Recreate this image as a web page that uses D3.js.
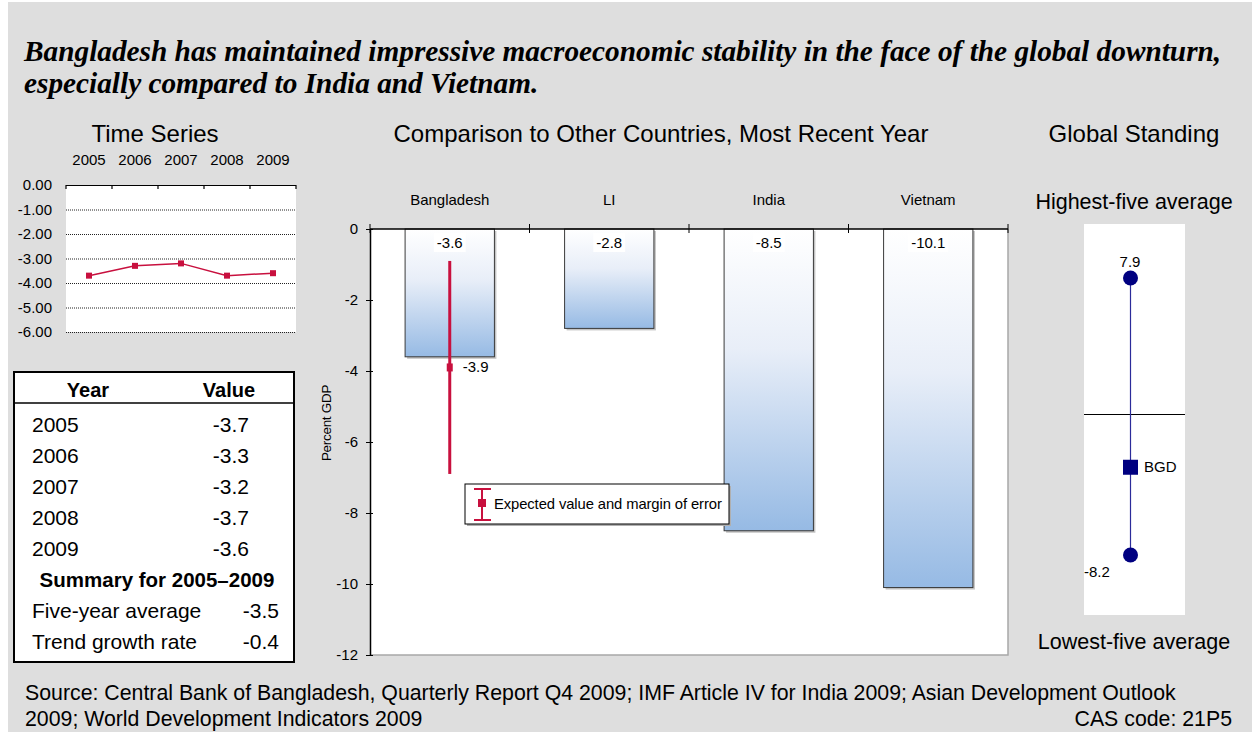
<!DOCTYPE html>
<html>
<head>
<meta charset="utf-8">
<script src="https://cdn.jsdelivr.net/npm/d3@7"></script>
<style>
  html, body { margin: 0; padding: 0; background: #ffffff; }
  svg { display: block; }
  text { font-family: "Liberation Sans", Arial, sans-serif; fill: #000; }
</style>
</head>
<body>
<svg id="chart" width="1252" height="732"></svg>
<script>
// ---- data ----
const years = ["2005", "2006", "2007", "2008", "2009"];
const yearValues = [-3.7, -3.3, -3.2, -3.7, -3.6];
const seriesTicks = [0, -1, -2, -3, -4, -5, -6];

const summaryLabels = ["Five-year average", "Trend growth rate"];
const summaryValues = [-3.5, -0.4];

const countries = ["Bangladesh", "LI", "India", "Vietnam"];
const recentValues = [-3.6, -2.8, -8.5, -10.1];
const barTicks = [0, -2, -4, -6, -8, -10, -12];
const expectedValue = -3.9;
const errorMargin = 3.0;

const standingLabels = ["7.9", "BGD", "-8.2"];
const standingValues = [7.9, -3.1, -8.2];

const titleLines = [
  "Bangladesh has maintained impressive macroeconomic stability in the face of the global downturn,",
  "especially compared to India and Vietnam."
];
const sourceLines = [
  "Source: Central Bank of Bangladesh, Quarterly Report Q4 2009; IMF Article IV for India 2009; Asian Development Outlook",
  "2009; World Development Indicators 2009"
];

const RED = "#c8103e";
const NAVY = "#000080";
const fmt1 = v => d3.format(".1f")(v).replace("\u2212", "-");

const svg = d3.select("#chart");

// page background panel
svg.append("rect").attr("x", 8).attr("y", 2).attr("width", 1244).attr("height", 730).attr("fill", "#dedede");

// headline
svg.selectAll("text.headline").data(titleLines).join("text")
  .attr("class", "headline")
  .attr("x", 24).attr("y", (d, i) => 61 + i * 32)
  .style("font-family", "'Liberation Serif', 'Times New Roman', serif")
  .style("font-weight", "bold").style("font-style", "italic")
  .style("font-size", "29.3px")
  .text(d => d);

// panel titles
const panelTitles = [
  { t: "Time Series", x: 155 },
  { t: "Comparison to Other Countries, Most Recent Year", x: 661 },
  { t: "Global Standing", x: 1134 }
];
svg.selectAll("text.ptitle").data(panelTitles).join("text")
  .attr("class", "ptitle")
  .attr("x", d => d.x).attr("y", 142)
  .attr("text-anchor", "middle")
  .style("font-size", "24px")
  .text(d => d.t);

// ================= Time series =================
const ts = svg.append("g");
const tx = d3.scaleBand().domain(years).range([66, 296]);
const ty = d3.scaleLinear().domain([-6, 0]).range([332, 185]);

ts.append("rect").attr("x", 66).attr("y", ty(0)).attr("width", 230).attr("height", ty(-6) - ty(0)).attr("fill", "#fff");

// dotted gridlines
ts.selectAll("line.grid").data(seriesTicks.filter(d => d !== 0)).join("line")
  .attr("class", "grid")
  .attr("x1", 66).attr("x2", 296)
  .attr("y1", d => ty(d) + 0.5).attr("y2", d => ty(d) + 0.5)
  .attr("stroke", "#222").attr("stroke-width", 1).attr("stroke-dasharray", "1,1");

// top axis with year labels
const tsTop = ts.append("g").attr("transform", `translate(0,${ty(0)})`)
  .call(d3.axisTop(tx).tickSize(0).tickPadding(20));
tsTop.select(".domain").remove();
tsTop.selectAll("text").style("font-size", "15px").style("font-family", "'Liberation Sans', Arial, sans-serif");
ts.append("line").attr("x1", 66).attr("x2", 296).attr("y1", ty(0) + 0.5).attr("y2", ty(0) + 0.5)
  .attr("stroke", "#000").attr("stroke-width", 1.2);
const tsBounds = years.map(y => tx(y)).concat([tx.range()[1]]);
ts.selectAll("line.btick").data(tsBounds).join("line")
  .attr("class", "btick")
  .attr("x1", d => d).attr("x2", d => d)
  .attr("y1", ty(0)).attr("y2", ty(0) + 4)
  .attr("stroke", "#000").attr("stroke-width", 1.2);

// left axis labels
const tsLeft = ts.append("g").attr("transform", "translate(66,0)")
  .call(d3.axisLeft(ty).tickValues(seriesTicks).tickFormat(d3.format(".2f")).tickSize(0).tickPadding(14));
tsLeft.select(".domain").remove();
tsLeft.selectAll("text").style("font-size", "15px").style("font-family", "'Liberation Sans', Arial, sans-serif")
  .text(d => d3.format(".2f")(d).replace("\u2212", "-"));

// series line + markers
const tsPts = years.map((y, i) => [tx(y) + tx.bandwidth() / 2, ty(yearValues[i])]);
ts.append("path").attr("d", d3.line()(tsPts)).attr("fill", "none").attr("stroke", RED).attr("stroke-width", 1.5);
ts.selectAll("rect.mk").data(tsPts).join("rect")
  .attr("class", "mk")
  .attr("x", d => d[0] - 3).attr("y", d => d[1] - 3).attr("width", 6).attr("height", 6).attr("fill", RED);

// ================= Table =================
const tb = svg.append("g");
const TFS = "21px";
tb.append("rect").attr("x", 14).attr("y", 372).attr("width", 280).attr("height", 290)
  .attr("fill", "#fff").attr("stroke", "#000").attr("stroke-width", 2);
tb.append("line").attr("x1", 14).attr("x2", 294).attr("y1", 403).attr("y2", 403).attr("stroke", "#000").attr("stroke-width", 1.5);
tb.append("text").attr("x", 88).attr("y", 397).attr("text-anchor", "middle")
  .style("font-size", "20px").style("font-weight", "bold").text("Year");
tb.append("text").attr("x", 229).attr("y", 397).attr("text-anchor", "middle")
  .style("font-size", "20px").style("font-weight", "bold").text("Value");
const rowY = i => 432 + i * 31;
tb.selectAll("text.yr").data(years).join("text").attr("class", "yr")
  .attr("x", 32).attr("y", (d, i) => rowY(i)).style("font-size", TFS).text(d => d);
tb.selectAll("text.yv").data(yearValues).join("text").attr("class", "yv")
  .attr("x", 249).attr("y", (d, i) => rowY(i)).attr("text-anchor", "end")
  .style("font-size", TFS).text(d => fmt1(d));
tb.append("text").attr("x", 157).attr("y", rowY(5)).attr("text-anchor", "middle")
  .style("font-size", "20.5px").style("font-weight", "bold").text("Summary for 2005\u20132009");
tb.selectAll("text.sl").data(summaryLabels).join("text").attr("class", "sl")
  .attr("x", 32).attr("y", (d, i) => rowY(6 + i)).style("font-size", TFS).text(d => d);
tb.selectAll("text.sv").data(summaryValues).join("text").attr("class", "sv")
  .attr("x", 279).attr("y", (d, i) => rowY(6 + i)).attr("text-anchor", "end")
  .style("font-size", TFS).text(d => fmt1(d));

// ================= Bar comparison =================
const bc = svg.append("g");
const bx = d3.scaleBand().domain(countries).range([370, 1008]).paddingInner(0.44).paddingOuter(0.22);
const by = d3.scaleLinear().domain([-12, 0]).range([655, 229]);

const defs = svg.append("defs");
const grad = defs.append("linearGradient").attr("id", "barFill").attr("x1", 0).attr("y1", 0).attr("x2", 0).attr("y2", 1);
grad.append("stop").attr("offset", "0%").attr("stop-color", "#ffffff");
grad.append("stop").attr("offset", "40%").attr("stop-color", "#e8eef8");
grad.append("stop").attr("offset", "100%").attr("stop-color", "#96bae4");

// plot area
bc.append("rect").attr("x", 370).attr("y", by(0)).attr("width", 638).attr("height", by(-12) - by(0)).attr("fill", "#fff");
bc.append("path").attr("d", `M370,${by(-12)}H1008V${by(0)}`).attr("fill", "none").attr("stroke", "#a8a8a8").attr("stroke-width", 1.5);

// bar shadows then bars
bc.selectAll("rect.shadow").data(countries).join("rect").attr("class", "shadow")
  .attr("x", d => bx(d) + 2).attr("y", by(0) + 2)
  .attr("width", bx.bandwidth()).attr("height", (d, i) => by(recentValues[i]) - by(0))
  .attr("fill", "#c4c4c4");
bc.selectAll("rect.bar").data(countries).join("rect").attr("class", "bar")
  .attr("x", d => bx(d)).attr("y", by(0))
  .attr("width", bx.bandwidth()).attr("height", (d, i) => by(recentValues[i]) - by(0))
  .attr("fill", "url(#barFill)").attr("stroke", "#3a3a3a").attr("stroke-width", 1);

// value labels with white backing
const lblG = bc.selectAll("g.vl").data(countries).join("g").attr("class", "vl");
lblG.each(function (d, i) {
  const g = d3.select(this);
  const cx = bx(d) + bx.bandwidth() / 2;
  const t = g.append("text").attr("x", cx).attr("y", by(0) + 19).attr("text-anchor", "middle")
    .style("font-size", "15px").text(fmt1(recentValues[i]));
  const bb = t.node().getBBox();
  g.insert("rect", "text").attr("x", bb.x - 3).attr("y", bb.y - 1).attr("width", bb.width + 6).attr("height", bb.height + 2).attr("fill", "#fff");
});

// top axis at zero with boundary ticks, category names above
bc.append("line").attr("x1", 370).attr("x2", 1008).attr("y1", by(0)).attr("y2", by(0)).attr("stroke", "#000").attr("stroke-width", 1.5);
const bBounds = countries.map(c => bx(c) - bx.step() * bx.paddingInner() / 2).concat([1008]);
bBounds[0] = 370;
bc.selectAll("line.ct").data(bBounds).join("line").attr("class", "ct")
  .attr("x1", d => d).attr("x2", d => d).attr("y1", by(0) - 5).attr("y2", by(0) + 4)
  .attr("stroke", "#000").attr("stroke-width", 1);
bc.selectAll("text.cat").data(countries).join("text").attr("class", "cat")
  .attr("x", d => bx(d) + bx.bandwidth() / 2).attr("y", 205).attr("text-anchor", "middle")
  .style("font-size", "15px").text(d => d);

// left axis
const bLeft = bc.append("g").attr("transform", "translate(370,0)")
  .call(d3.axisLeft(by).tickValues(barTicks).tickSizeInner(4).tickSizeOuter(0).tickPadding(8).tickFormat(d3.format("d")));
bLeft.select(".domain").attr("stroke", "#000").attr("stroke-width", 1.5);
bLeft.selectAll(".tick line").attr("x2", -4).attr("x1", 3);
bLeft.selectAll("text").style("font-size", "15px").style("font-family", "'Liberation Sans', Arial, sans-serif")
  .text(d => String(d).replace("\u2212", "-"));
bc.append("text").attr("transform", "translate(331,423) rotate(-90)").attr("text-anchor", "middle")
  .style("font-size", "13.5px").style("letter-spacing", "-0.3px").text("Percent GDP");

// expected value with margin of error
const ex = bx("Bangladesh") + bx.bandwidth() / 2;
bc.append("line").attr("x1", ex).attr("x2", ex)
  .attr("y1", by(expectedValue + errorMargin)).attr("y2", by(expectedValue - errorMargin))
  .attr("stroke", RED).attr("stroke-width", 3);
bc.append("rect").attr("x", ex - 3).attr("y", by(expectedValue) - 4).attr("width", 6).attr("height", 8).attr("fill", RED);
bc.append("text").attr("x", ex + 13).attr("y", by(expectedValue) + 5)
  .style("font-size", "15px").text(fmt1(expectedValue));

// legend
const lg = bc.append("g").attr("transform", "translate(465,484)");
lg.append("rect").attr("x", 2).attr("y", 2).attr("width", 264).attr("height", 40).attr("fill", "#b0b0b0");
lg.append("rect").attr("width", 264).attr("height", 40).attr("fill", "#fff").attr("stroke", "#000").attr("stroke-width", 1);
lg.append("line").attr("x1", 17).attr("x2", 17).attr("y1", 5).attr("y2", 36).attr("stroke", RED).attr("stroke-width", 2);
lg.append("line").attr("x1", 9).attr("x2", 26).attr("y1", 5).attr("y2", 5).attr("stroke", RED).attr("stroke-width", 2);
lg.append("line").attr("x1", 9).attr("x2", 26).attr("y1", 36).attr("y2", 36).attr("stroke", RED).attr("stroke-width", 2);
lg.append("rect").attr("x", 13).attr("y", 15).attr("width", 8).attr("height", 8).attr("fill", RED);
lg.append("text").attr("x", 29).attr("y", 25).style("font-size", "14.8px").style("letter-spacing", "-0.1px")
  .text("Expected value and margin of error");

// ================= Global standing =================
const gs = svg.append("g");
const gy = d3.scaleLinear().domain([-8.2, 7.9]).range([555, 278]);
const gx = 1130;
gs.append("rect").attr("x", 1084).attr("y", 224).attr("width", 101).attr("height", 391).attr("fill", "#fff");
gs.append("line").attr("x1", 1084).attr("x2", 1185).attr("y1", Math.round(gy(0)) + 0.5).attr("y2", Math.round(gy(0)) + 0.5)
  .attr("stroke", "#000").attr("stroke-width", 1);
gs.append("line").attr("x1", gx + 0.5).attr("x2", gx + 0.5).attr("y1", gy(d3.max(standingValues))).attr("y2", gy(d3.min(standingValues)))
  .attr("stroke", "#2b2b9a").attr("stroke-width", 1.2);
gs.append("circle").attr("cx", gx + 0.5).attr("cy", gy(standingValues[0])).attr("r", 7.5).attr("fill", NAVY);
gs.append("circle").attr("cx", gx + 0.5).attr("cy", gy(standingValues[2])).attr("r", 7.5).attr("fill", NAVY);
gs.append("rect").attr("x", gx - 7).attr("y", gy(standingValues[1]) - 7.5).attr("width", 15).attr("height", 15).attr("fill", NAVY);
gs.append("text").attr("x", gx).attr("y", gy(standingValues[0]) - 11).attr("text-anchor", "middle")
  .style("font-size", "15px").text(standingLabels[0]);
gs.append("text").attr("x", gx + 14).attr("y", gy(standingValues[1]) + 5)
  .style("font-size", "15px").text(standingLabels[1]);
gs.append("text").attr("x", 1084).attr("y", gy(standingValues[2]) + 22)
  .style("font-size", "15px").text(standingLabels[2]);
gs.append("text").attr("x", 1134).attr("y", 209).attr("text-anchor", "middle").style("font-size", "21.5px").text("Highest-five average");
gs.append("text").attr("x", 1134).attr("y", 649).attr("text-anchor", "middle").style("font-size", "21.5px").text("Lowest-five average");

// ================= Footer =================
svg.selectAll("text.src").data(sourceLines).join("text").attr("class", "src")
  .attr("x", 25).attr("y", (d, i) => 700 + i * 26)
  .style("font-size", "21.3px").text(d => d);
svg.append("text").attr("x", 1232).attr("y", 726).attr("text-anchor", "end").style("font-size", "21.3px").text("CAS code: 21P5");
</script>
</body>
</html>
